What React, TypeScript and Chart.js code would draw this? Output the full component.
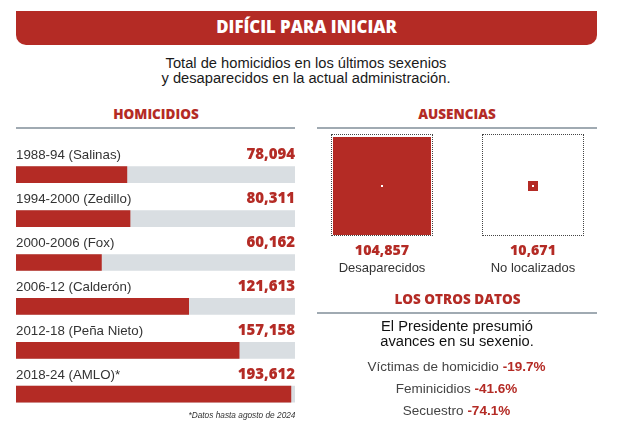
import React, { useEffect, useRef } from "react";
import { Chart, registerables } from "chart.js";

Chart.register(...registerables);

// ---------- data ----------
const categories = [
  "1988-94 (Salinas)",
  "1994-2000 (Zedillo)",
  "2000-2006 (Fox)",
  "2006-12 (Calderón)",
  "2012-18 (Peña Nieto)",
  "2018-24 (AMLO)*",
];
const homicidios = [78094, 80311, 60162, 121613, 157158, 193612];
const AXIS_MAX = 196500;

const ausenciasLabels = ["Desaparecidos", "No localizados"];
const ausenciasValues = [104857, 10671];

const otrosLabels = ["Víctimas de homicidio", "Feminicidios", "Secuestro"];
const otrosValues = [-19.7, -41.6, -74.1];

// ---------- styles ----------
const RED = "#b42b25";
const TRACK = "#d9dee2";
const RULE = "#a0aab2";
const SANS = "'Liberation Sans', Arial, sans-serif";
const OPEN = "'Open Sans', 'Liberation Sans', sans-serif";

const fmt = (n: number) => n.toLocaleString("en-US");

type TxtProps = {
  x: number;
  y: number;
  size: number;
  family?: string;
  weight?: number | string;
  color?: string;
  align?: "left" | "center" | "right";
  italic?: boolean;
  children: React.ReactNode;
};

function Txt({ x, y, size, family = SANS, weight = 400, color = "#333", align = "center", italic, children }: TxtProps) {
  const k = family === OPEN ? 0.888 : 0.8465;
  const top = y - k * size;
  const style: React.CSSProperties = {
    position: "absolute",
    top,
    fontFamily: family,
    fontSize: size,
    fontWeight: weight as any,
    fontStyle: italic ? "italic" : "normal",
    color,
    lineHeight: `${size}px`,
    whiteSpace: "nowrap",
    textAlign: align,
  };
  if (align === "center") {
    style.left = x - 300;
    style.width = 600;
  } else if (align === "right") {
    style.left = x - 600;
    style.width = 600;
  } else {
    style.left = x;
  }
  return <div style={style}>{children}</div>;
}

function BarsChart() {
  const ref = useRef<HTMLCanvasElement | null>(null);
  useEffect(() => {
    if (!ref.current) return;
    const labelPlugin = {
      id: "rowLabels",
      afterDatasetsDraw(chart: any) {
        const ctx = chart.ctx;
        const meta = chart.getDatasetMeta(0);
        const area = chart.chartArea;
        ctx.save();
        ctx.textBaseline = "alphabetic";
        meta.data.forEach((el: any, i: number) => {
          const y = el.y - 15.5;
          ctx.font = `400 13.3px ${SANS}`;
          ctx.fillStyle = "#333";
          ctx.textAlign = "left";
          ctx.fillText(categories[i], area.left, y);
          ctx.font = `800 15px ${OPEN}`;
          ctx.fillStyle = RED;
          ctx.textAlign = "right";
          ctx.fillText(fmt(homicidios[i]), area.right, y);
        });
        ctx.restore();
      },
    };
    const chart = new Chart(ref.current, {
      type: "bar",
      data: {
        labels: categories,
        datasets: [
          {
            data: homicidios,
            backgroundColor: RED,
            barThickness: 16,
            grouped: false,
            order: 0,
          } as any,
          {
            data: homicidios.map(() => AXIS_MAX),
            backgroundColor: TRACK,
            barThickness: 16,
            grouped: false,
            order: 1,
          } as any,
        ],
      },
      options: {
        indexAxis: "y",
        responsive: false,
        animation: false,
        devicePixelRatio: 1,
        layout: { padding: { left: 16, right: 15, top: 22.75, bottom: 3.85 } },
        scales: {
          x: { min: 0, max: AXIS_MAX, display: false },
          y: { display: false },
        },
        plugins: { legend: { display: false }, tooltip: { enabled: false } },
      },
      plugins: [labelPlugin],
    });
    return () => chart.destroy();
  }, []);
  return (
    <canvas
      ref={ref}
      width={310}
      height={290}
      style={{ position: "absolute", left: 0, top: 130, width: 310, height: 290 }}
    />
  );
}

export default function App() {
  useEffect(() => {
    document.body.style.margin = "0";
  }, []);
  const boxes = [
    { left: 331, cx: 382, inner: 98 },
    { left: 482, cx: 533, inner: 10 },
  ];
  return (
    <div
      style={{
        position: "absolute",
        left: 0,
        top: 0,
        width: 620,
        height: 447,
        background: "#fff",
        overflow: "hidden",
      }}
    >
      {/* title bar */}
      <div
        style={{
          position: "absolute",
          left: 16,
          top: 11,
          width: 581,
          height: 34,
          background: RED,
          borderRadius: "0 0 10px 10px",
        }}
      />
      <Txt x={306.5} y={34.3} size={16.8} family={OPEN} weight={800} color="#fff">
        DIFÍCIL PARA INICIAR
      </Txt>
      <Txt x={306} y={68.3} size={14.7} color="#1a1a1a">
        Total de homicidios en los últimos sexenios
      </Txt>
      <Txt x={306} y={83.3} size={14.7} color="#1a1a1a">
        y desaparecidos en la actual administración.
      </Txt>

      {/* section headers */}
      <Txt x={156} y={120} size={13.5} family={OPEN} weight={800} color={RED}>
        HOMICIDIOS
      </Txt>
      <div style={{ position: "absolute", left: 16, top: 127, width: 279, height: 2, background: RULE }} />
      <Txt x={457} y={120} size={13.5} family={OPEN} weight={800} color={RED}>
        AUSENCIAS
      </Txt>
      <div style={{ position: "absolute", left: 317, top: 127, width: 280, height: 2, background: RULE }} />

      <BarsChart />
      <Txt x={295.5} y={418} size={8.3} italic align="right" color="#333">
        *Datos hasta agosto de 2024
      </Txt>

      {/* ausencias squares */}
      {boxes.map((b, i) => (
        <React.Fragment key={i}>
          <div
            style={{
              position: "absolute",
              left: b.left,
              top: 134,
              width: 102,
              height: 102,
              border: "1px dotted #444",
              boxSizing: "border-box",
            }}
          />
          <div
            style={{
              position: "absolute",
              left: b.cx - b.inner / 2,
              top: 186 - b.inner / 2,
              width: b.inner,
              height: b.inner,
              background: RED,
            }}
          />
          <div
            style={{
              position: "absolute",
              left: b.cx - 1,
              top: 185,
              width: 2,
              height: 2,
              background: "#fff",
            }}
          />
          <Txt x={b.cx} y={256} size={14.2} family={OPEN} weight={800} color={RED}>
            {fmt(ausenciasValues[i])}
          </Txt>
          <Txt x={b.cx} y={271.7} size={13} color="#333">
            {ausenciasLabels[i]}
          </Txt>
        </React.Fragment>
      ))}

      {/* los otros datos */}
      <Txt x={457.5} y={305} size={13.5} family={OPEN} weight={800} color={RED}>
        LOS OTROS DATOS
      </Txt>
      <div style={{ position: "absolute", left: 317, top: 311.5, width: 280, height: 2, background: RULE }} />
      <Txt x={457} y={331.7} size={14.7} color="#111">
        El Presidente presumió
      </Txt>
      <Txt x={457} y={346.7} size={14.7} color="#111">
        avances en su sexenio.
      </Txt>
      {otrosLabels.map((lab, i) => (
        <Txt key={lab} x={456.5} y={371.7 + i * 22} size={13.5} color="#444">
          {lab}{" "}
          <span style={{ color: RED, fontWeight: 700 }}>{otrosValues[i].toFixed(1)}%</span>
        </Txt>
      ))}
    </div>
  );
}
